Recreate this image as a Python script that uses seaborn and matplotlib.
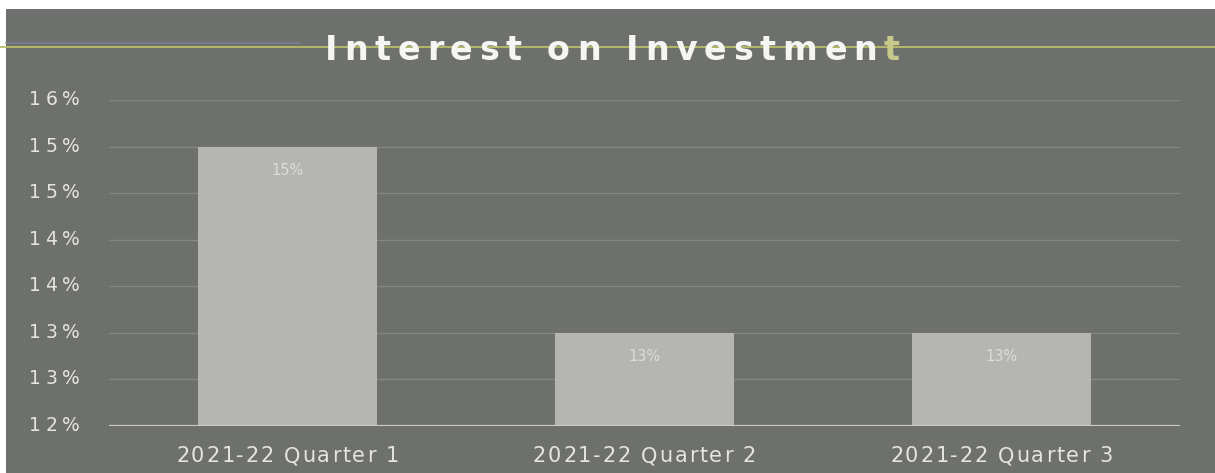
import matplotlib
matplotlib.use("Agg")
import matplotlib.pyplot as plt
import matplotlib.patches as mpatches
from matplotlib.font_manager import FontProperties
import seaborn as sns
import pandas as pd

# Chart data
quarters = ["2021-22 Quarter 1", "2021-22 Quarter 2", "2021-22 Quarter 3"]
interest = [15.0, 13.0, 13.0]
bar_labels = ["15%", "13%", "13%"]
y_ticks = [12.0, 12.5, 13.0, 13.5, 14.0, 14.5, 15.0, 15.5]
y_tick_labels = ["12%", "13%", "13%", "14%", "14%", "15%", "15%", "16%"]
title = "Interest on Investment"

df = pd.DataFrame({"quarter": quarters, "interest": interest})

sns.set_theme(style="white")
FAMILY = ["DejaVu Sans"]
plt.rcParams["font.family"] = FAMILY

W, H = 1215, 473
DPI = 100
fig = plt.figure(figsize=(W / DPI, H / DPI), dpi=DPI, facecolor="white")
renderer = fig.canvas.get_renderer()

# full-figure overlay in pixel units (y grows downward)
bg = fig.add_axes([0, 0, 1, 1], zorder=0)
bg.set_xlim(0, W)
bg.set_ylim(H, 0)
bg.axis("off")
bg.add_patch(mpatches.Rectangle((6, 9), W - 6, H - 9, facecolor="#6e706d", edgecolor="none"))
bg.plot([6, 300], [43, 43], color="#7b7f95", lw=1.2)
bg.plot([0, W], [47, 47], color="#b9bd6a", lw=1.3)

top = fig.add_axes([0, 0, 1, 1], zorder=5)
top.set_xlim(0, W)
top.set_ylim(H, 0)
top.axis("off")


def text_width(s, size, weight):
    fp = FontProperties(family=FAMILY, weight=weight, size=size)
    w, _, _ = renderer.get_text_width_height_descent(s, fp, ismath=False)
    return w


def spaced_text(s, x, baseline, size, width, weight="normal", color="white",
                ha="left", colors=None):
    """Draw s letter-spaced so it spans `width` pixels."""
    natural = text_width(s, size, weight)
    track = (width - natural) / max(len(s) - 1, 1)
    if ha == "center":
        x -= width / 2
    elif ha == "right":
        x -= width
    for k, ch in enumerate(s):
        if ch == " ":
            continue
        start = text_width(s[:k + 1], size, weight) - text_width(ch, size, weight)
        c = colors[k] if colors else color
        top.text(x + start + track * k, baseline, ch, fontsize=size, fontweight=weight,
                 color=c, ha="left", va="baseline")


ax = fig.add_axes([109 / W, 1 - 426 / H, (1180 - 109) / W, (426 - 100) / H], zorder=2)
ax.set_facecolor("none")

sns.barplot(data=df, x="quarter", y="interest", color="#b5b6b3", width=0.5,
            saturation=1, edgecolor="none", linewidth=0, ax=ax, zorder=3)

ax.set_ylim(12.0, 15.5)
ax.set_xlim(-0.5, 2.5)
ax.set_yticks(y_ticks)
ax.set_xticks(range(len(quarters)))
ax.set_xticklabels([])
ax.set_yticklabels([])
ax.set_xlabel("")
ax.set_ylabel("")
ax.tick_params(length=0)

for t in y_ticks[1:]:
    ax.axhline(t, color="#858784", lw=1.0, zorder=1)
ax.axhline(12.0, color="#c9cac8", lw=1.6, zorder=4)
for s in ax.spines.values():
    s.set_visible(False)

for i, (v, lab) in enumerate(zip(interest, bar_labels)):
    ax.annotate(lab, xy=(i, v), xytext=(0, -17), textcoords="offset points",
                ha="center", va="center", fontsize=10.5, color="#dcdcda", zorder=5)

# axis labels in pixel space, positioned from the data axes transform
to_px = lambda xd, yd: (ax.transData.transform((xd, yd)) * [1, -1] + [0, H])
for t, lab in zip(y_ticks, y_tick_labels):
    _, yp = to_px(0, t)
    spaced_text(lab, 80, yp + 5, 13.5, 51, color="#e4e4e2", ha="right")
for i, lab in enumerate(quarters):
    xp, _ = to_px(i, 12)
    spaced_text(lab, xp, 462, 15, 223, color="#e4e4e2", ha="center")

# title, final letter picked out in olive
spaced_text(title, 325, 60, 24, 575, weight="bold",
            colors=["#f5f5f3"] * (len(title) - 1) + ["#c7c98a"])

fig.savefig("out.png", dpi=DPI, facecolor="white")
